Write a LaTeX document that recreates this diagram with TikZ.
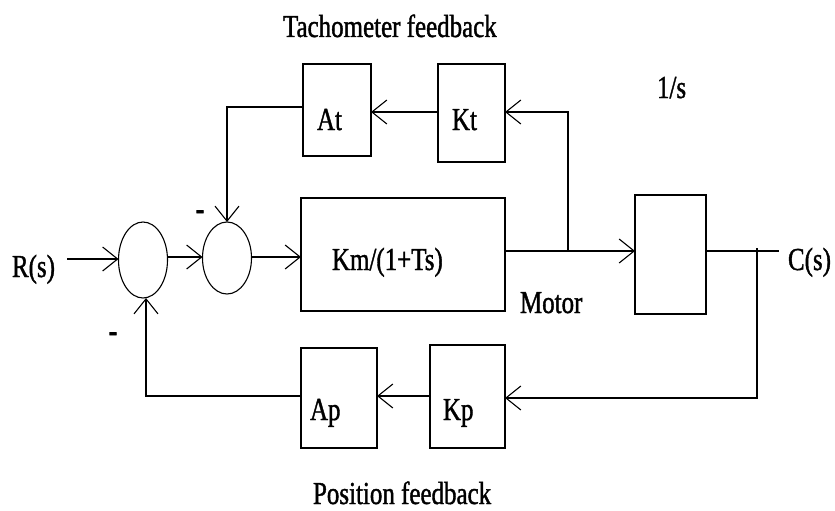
\documentclass[tikz,border=0pt]{standalone}
\usepackage{fontspec}
\setmainfont{Liberation Serif}[FakeStretch=0.78,FakeBold=1.2,AutoFakeBold=2.5]
\usetikzlibrary{arrows.meta,shapes.geometric}
\begin{document}
\begin{tikzpicture}[x=1pt,y=-1pt,
  every node/.style={inner sep=0pt,outer sep=0pt},
  blk/.style={draw,line width=1.1pt,rectangle,anchor=north west},
  sumj/.style={draw,line width=1.1pt,ellipse},
  lbl/.style={anchor=base west,font=\fontsize{32}{38}\selectfont},
  minus/.style={font=\fontsize{32}{38}\bfseries\selectfont},
  wire/.style={line width=1.1pt},
  arr/.style={wire,-{Straight Barb[length=15pt,width=24pt,line width=1.1pt]}}]
\useasboundingbox (0,0) rectangle (835,511);
% blocks
\node[blk,minimum width=68pt,minimum height=92pt] (At) at (303,64) {};
\node[blk,minimum width=67pt,minimum height=98pt] (Kt) at (438,64) {};
\node[blk,minimum width=204pt,minimum height=113pt] (M) at (301,198) {};
\node[blk,minimum width=71pt,minimum height=119pt] (I) at (635,195) {};
\node[blk,minimum width=76pt,minimum height=100pt] (Ap) at (301,348) {};
\node[blk,minimum width=75pt,minimum height=103pt] (Kp) at (430,345) {};
\node[sumj,minimum width=49pt,minimum height=76pt] (s1) at (143,260) {};
\node[sumj,minimum width=49pt,minimum height=72pt] (s2) at (227,258) {};
% labels
\node[lbl] (tf) at (283,37) {Tachometer feedback};
\node[lbl] (tAt) at (317,130) {At};
\node[lbl] (tKt) at (452,130) {Kt};
\node[lbl] (tis) at (657,98) {1/s};
\node[lbl] (tR) at (12,277) {R(s)};
\node[lbl] (tM) at (332,270) {Km/(1+Ts)};
\node[lbl] (tmot) at (520,313) {Motor};
\node[lbl] (tC) at (788,270) {C(s)};
\node[lbl] (tAp) at (310,420) {Ap};
\node[lbl] (tKp) at (443,420) {Kp};
\node[lbl] (tpf) at (313,504) {Position feedback};
\node[minus] (m1) at (200,215) {-};
\node[minus] (m2) at (113,337) {-};
% connectors
\coordinate (rin) at (67,259);
\coordinate (j1) at (568,251);
\coordinate (cout) at (779,251);
\coordinate (j2) at (757,251);
\coordinate (j2b) at (757,398);
\draw[arr] (rin) -- (rin -| s1.west);
\draw[arr] (167,257) -- (s2.west |- 0,257);
\draw[arr] (252,257) -- (M.west |- 0,257);
\draw[arr] (M.east |- j1) -- (I.west |- j1);
\draw[wire] (I.east |- j1) -- (cout);
\draw[wire] (j2) -- ++(0,-3);
\draw[arr] (j1) -- (j1 |- 0,112) -- (Kt.east |- 0,112);
\draw[arr] (Kt.west |- 0,112) -- (At.east |- 0,112);
\draw[arr] (At.west |- 0,107) -| (s2.north);
\draw[arr] (j2) -- (j2b) -- (Kp.east |- j2b);
\draw[arr] (Kp.west |- 0,396) -- (Ap.east |- 0,396);
\draw[arr] (Ap.west |- 0,396) -- (146,396) -- (146,298);
\end{tikzpicture}
\end{document}
